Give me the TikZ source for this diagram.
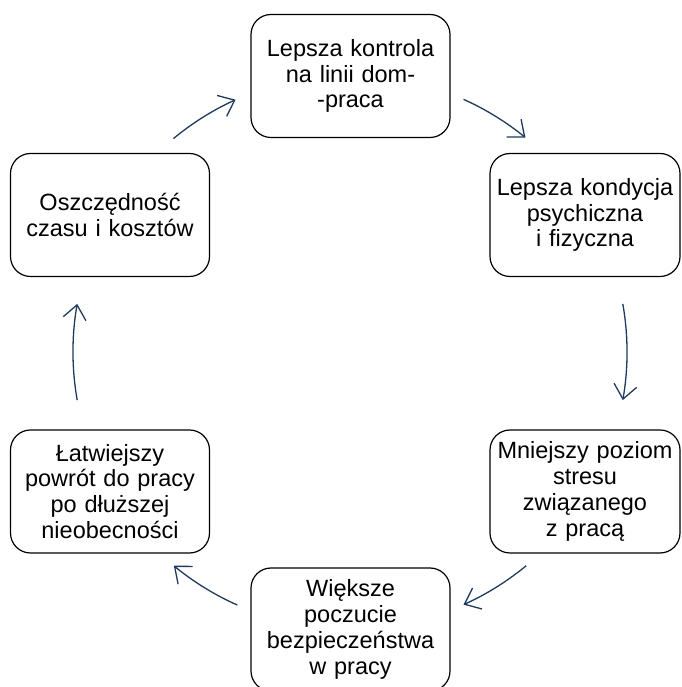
\documentclass[tikz,border=0pt]{standalone}
\usepackage{fontspec}
\setmainfont{Liberation Sans}
\usetikzlibrary{arrows.meta,calc}
\definecolor{arrowblue}{HTML}{1F3A5C}
\begin{document}
\begin{tikzpicture}[x=1pt,y=1pt,
  box/.style={draw=black,line width=1.2pt,rounded corners=20pt,
    minimum height=123pt,inner sep=2pt,align=center,
    font=\fontsize{23.5}{25.8}\selectfont},
  wbox/.style={box,minimum width=199pt,text width=192pt},
  nbox/.style={box,minimum width=188pt,text width=186pt},
  cyc/.style={draw=arrowblue,line width=1.3pt,
    -{Straight Barb[length=14pt,width=23pt,line width=1.3pt]}}]
\useasboundingbox (0,0) rectangle (681,687);
\clip (0,0) rectangle (681,687);
\node[wbox] (top) at (350.5,611) {Lepsza kontrola\\na linii dom-\\-praca};
\node[nbox] (ru) at (585,472) {Lepsza kondycja\\psychiczna\\i fizyczna};
\node[nbox] (rl) at (585,195.5) {Mniejszy poziom\\stresu\\związanego\\z pracą};
\node[wbox] (bot) at (350.5,57.5) {Większe\\poczucie\\bezpieczeństwa\\w pracy};
\node[wbox] (ll) at (110,195.5) {Łatwiejszy\\powrót do pracy\\po dłuższej\\nieobecności};
\node[wbox] (lu) at (110,472) {Oszczędność\\czasu i kosztów};
\coordinate (c) at (350,335);
\coordinate (s1) at ($(c)+(129.6:277)$);
\coordinate (s2) at ($(c)+(65.8:277)$);
\coordinate (s3) at ($(c)+(10:277)$);
\coordinate (s4) at ($(c)+(-50.5:277)$);
\coordinate (s5) at ($(c)+(-114:277)$);
\coordinate (s6) at ($(c)+(190:277)$);
\draw[cyc] (s1) arc[start angle=129.6,end angle=114.4,radius=277];
\draw[cyc] (s2) arc[start angle=65.8,end angle=50.7,radius=277];
\draw[cyc] (s3) arc[start angle=10,end angle=-10,radius=277];
\draw[cyc] (s4) arc[start angle=-50.5,end angle=-65.8,radius=277];
\draw[cyc] (s5) arc[start angle=-114,end angle=-129.5,radius=277];
\draw[cyc] (s6) arc[start angle=190,end angle=170,radius=277];
\end{tikzpicture}
\end{document}
